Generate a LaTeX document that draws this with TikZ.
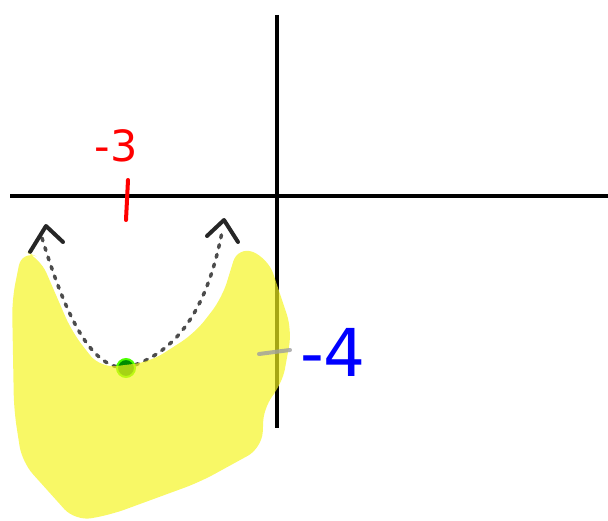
\documentclass[tikz,border=0pt]{standalone}
\usepackage{fontspec}
\setsansfont{DejaVu Sans}
\usetikzlibrary{arrows.meta}
\definecolor{marker}{RGB}{245,245,30}

\begin{document}
\begin{tikzpicture}[
	x=1pt, y=-1pt,
	axis/.style={line width=4pt, black},
	tick/.style={line width=4pt, line cap=round},
	curve/.style={line width=3.5pt, black!70, dash pattern=on 3pt off 7pt, line cap=round},
	head/.style={line width=4pt, black!85, line cap=round, line join=round},
	label/.style={inner sep=0pt}
]
\useasboundingbox (0,0) rectangle (608,521);

% 坐标轴
\coordinate (xl) at (10,196);
\coordinate (xr) at (608,196);
\coordinate (yt) at (277,15);
\coordinate (yb) at (277,428);
\draw[axis] (xl) -- (xr);
\draw[axis] (yt) -- (yb);

% 刻度与标签
\coordinate (t3a) at (128,180);
\coordinate (t3b) at (126,220);
\draw[tick, red] (t3a) -- (t3b);
\node[label, text=red, font=\sffamily\fontsize{43}{43}\selectfont] (n3) at (116,146) {-3};
\node[label, text=blue, font=\sffamily\fontsize{66}{66}\selectfont] (n4) at (333,352) {-4};

% 抛物线
\coordinate (L) at (42,238);
\coordinate (V) at (126,368);
\coordinate (R) at (222,232);
\draw[curve] (L) .. controls (70,330) and (95,368) .. (V);
\draw[curve] (V) .. controls (170,355) and (205,320) .. (R);
\node[circle, fill=green!55!black, draw=green!70!yellow, line width=2pt, minimum size=18pt, inner sep=0pt] (vtx) at (V) {};

% 箭头
\draw[head] (30,252) -- (46,226) -- (63,242);
\draw[head] (207,236) -- (224,220) -- (238,242);

% 涂抹区域
\fill[marker, opacity=0.68, rounded corners=16pt]
	(22,250) -- (40,258) -- (72,332) -- (100,368) -- (150,362) -- (195,333) -- (222,298) -- (238,246)
	-- (268,258) -- (292,330) -- (282,385) -- (264,405) -- (262,448) -- (200,482) -- (110,515)
	-- (75,521) -- (22,462) -- (14,410) -- (12,300) -- cycle;
\coordinate (t4a) at (259,354);
\coordinate (t4b) at (290,350);
\draw[tick, gray!75, opacity=0.8] (t4a) -- (t4b);
\end{tikzpicture}
\end{document}
